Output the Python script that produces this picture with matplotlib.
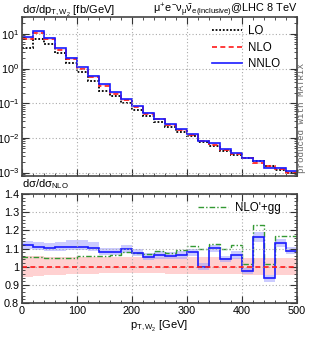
import numpy as np
import matplotlib
matplotlib.use("Agg")
import matplotlib.pyplot as plt
from matplotlib.ticker import MultipleLocator, FuncFormatter, LogLocator, NullFormatter

plt.rcParams['font.family'] = ['Liberation Sans', 'DejaVu Sans']
plt.rcParams['mathtext.fontset'] = 'custom'
plt.rcParams['mathtext.rm'] = 'Liberation Sans'
plt.rcParams['mathtext.it'] = 'Liberation Sans'
plt.rcParams['mathtext.bf'] = 'Liberation Sans:bold'

# bins in pT,W2 [GeV]
edges = np.arange(0, 520, 20)

# top panel: dsigma/dpT [fb/GeV]
lo = [3.8, 7.0, 5.0, 2.85, 1.42, 0.78, 0.44, 0.23, 0.16, 0.10, 0.063, 0.044, 0.029,
      0.020, 0.0148, 0.0114, 0.0076, 0.0059, 0.0043, 0.0033, 0.0027, 0.0021,
      0.00155, 0.00122, 0.00097]
nlo = [7.1, 10.5, 7.0, 3.5, 1.86, 1.0, 0.56, 0.32, 0.19, 0.12, 0.078, 0.050, 0.034,
       0.023, 0.0166, 0.012, 0.0081, 0.0063, 0.0046, 0.0035, 0.0027, 0.0019,
       0.0015, 0.00123, 0.0010]
nnlo = [7.9, 11.7, 7.7, 3.9, 2.07, 1.11, 0.62, 0.35, 0.205, 0.13, 0.084, 0.053, 0.036,
        0.0244, 0.0177, 0.013, 0.0081, 0.0069, 0.0048, 0.0037, 0.0026, 0.0022,
        0.0014, 0.00139, 0.00109]

# bottom panel: ratios to NLO
r_nnlo = [1.117, 1.111, 1.104, 1.107, 1.111, 1.111, 1.104, 1.083, 1.083, 1.097, 1.078,
          1.052, 1.063, 1.059, 1.065, 1.080, 0.997, 1.102, 1.041, 1.063, 0.978, 1.163,
          0.935, 1.13, 1.089]
r_nnlo_hi = [1.142, 1.138, 1.130, 1.135, 1.145, 1.145, 1.135, 1.105, 1.105, 1.12, 1.10,
             1.075, 1.085, 1.08, 1.085, 1.10, 1.02, 1.12, 1.06, 1.085, 0.995, 1.19,
             0.955, 1.15, 1.11]
r_nnlo_lo = [1.095, 1.09, 1.085, 1.088, 1.09, 1.09, 1.085, 1.065, 1.065, 1.075, 1.058,
             1.035, 1.045, 1.04, 1.045, 1.06, 0.98, 1.082, 1.025, 1.045, 0.962, 1.135,
             0.917, 1.11, 1.07]
r_nlo_hi = [1.06, 1.058, 1.056, 1.055, 1.055, 1.055, 1.055, 1.055, 1.055, 1.055, 1.055,
            1.054, 1.054, 1.053, 1.053, 1.052, 1.052, 1.051, 1.05, 1.05, 1.05, 1.049,
            1.048, 1.048, 1.047]
r_nlo_lo = [0.945, 0.948, 0.952, 0.955, 0.958, 0.96, 0.962, 0.963, 0.964, 0.965, 0.965,
            0.964, 0.963, 0.962, 0.961, 0.96, 0.96, 0.959, 0.958, 0.957, 0.956, 0.956,
            0.955, 0.955, 0.954]
r_gg = [1.056, 1.052, 1.048, 1.048, 1.048, 1.057, 1.057, 1.06, 1.063, 1.083, 1.078, 1.07,
        1.089, 1.078, 1.093, 1.113, 1.097, 1.124, 1.100, 1.120, 1.017, 1.23, 1.013,
        1.17, 1.17]

nlo_a = np.array(nlo)
nnlo_a = np.array(nnlo)
nnlo_rel_hi = np.array(r_nnlo_hi) / np.array(r_nnlo)
nnlo_rel_lo = np.array(r_nnlo_lo) / np.array(r_nnlo)

fig = plt.figure(figsize=(3.11, 3.40), dpi=100)
ax1 = fig.add_axes([0.0707, 0.482, 0.884, 0.468])
ax2 = fig.add_axes([0.0707, 0.109, 0.884, 0.320])

blue = '#1a1aff'
red = '#ff1a1a'
green = '#339933'

# --- top panel
ax1.stairs(nlo_a * np.array(r_nlo_hi), edges, baseline=nlo_a * np.array(r_nlo_lo),
           fill=True, color='#ffb3b3', alpha=0.6, lw=0)
ax1.stairs(nnlo_a * nnlo_rel_hi, edges, baseline=nnlo_a * nnlo_rel_lo,
           fill=True, color='#9999ff', alpha=0.6, lw=0)
ax1.stairs(lo, edges, color='black', ls=(0, (1, 1)), lw=1.3, baseline=None, label='LO')
ax1.stairs(nlo, edges, color=red, ls=(0, (3, 2)), lw=1.2, baseline=None, label='NLO')
ax1.stairs(nnlo, edges, color=blue, lw=1.2, baseline=None, label='NNLO')
ax1.set_yscale('log')
ax1.set_xlim(0, 500)
ax1.set_ylim(7.9e-4, 30.6)
ax1.xaxis.set_major_locator(MultipleLocator(100))
ax1.xaxis.set_minor_locator(MultipleLocator(20))
ax1.xaxis.set_major_formatter(NullFormatter())
ax1.yaxis.set_major_locator(LogLocator(base=10, numticks=10))
ax1.yaxis.set_minor_locator(LogLocator(base=10, subs=np.arange(2, 10), numticks=10))
ax1.yaxis.set_minor_formatter(NullFormatter())
leg = ax1.legend(loc='upper right', frameon=False, fontsize=8.3, handlelength=2.6,
                 handletextpad=0.6, labelspacing=0.4, borderaxespad=0.3,
                 bbox_to_anchor=(0.97, 1.0))

fig.text(0.072, 1 - 13.0 / 340, r'd$\sigma$/dp$_{\rm T,W_2}$ [fb/GeV]', fontsize=8,
         ha='left', va='baseline')
fig.text(0.955, 1 - 13.0 / 340,
         r'$\mu^{+}e^{-}\nu_{\mu}\bar{\nu}_{e}$$_{\rm (inclusive)}$@LHC 8 TeV',
         fontsize=7.8, ha='right', va='baseline')
fig.text(0.971, 0.653, 'produced with MATRIX', rotation=90, fontsize=6.6,
         family='Liberation Mono', color='#666666', ha='center', va='center')

# --- bottom panel
ax2.stairs(r_nlo_hi, edges, baseline=r_nlo_lo, fill=True, color='#ffb3b3',
           alpha=0.6, lw=0)
ax2.stairs(r_nnlo_hi, edges, baseline=r_nnlo_lo, fill=True, color='#9999ff',
           alpha=0.5, lw=0)
ax2.axhline(1.0, color=red, ls=(0, (3, 2)), lw=1.2)
ax2.stairs(r_gg, edges, color=green, ls=(0, (4, 1.5, 1, 1.5)), lw=1.0, baseline=None,
           label="NLO'+gg")
ax2.stairs(r_nnlo, edges, color=blue, lw=1.2, baseline=None)
ax2.set_xlim(0, 500)
ax2.set_ylim(0.8, 1.4)
ax2.xaxis.set_major_locator(MultipleLocator(100))
ax2.xaxis.set_minor_locator(MultipleLocator(20))
ax2.yaxis.set_major_locator(MultipleLocator(0.1))
ax2.yaxis.set_minor_locator(MultipleLocator(0.02))
ax2.yaxis.set_major_formatter(FuncFormatter(lambda v, p: '%g' % round(v, 2)))
ax2.legend(loc='upper right', frameon=False, fontsize=8.3, handlelength=2.6,
           handletextpad=0.6, borderaxespad=0.3, bbox_to_anchor=(0.97, 1.0))
ax2.set_xlabel(r'p$_{\rm T,W_2}$ [GeV]', fontsize=8, labelpad=2)
fig.text(0.072, 0.437, r'd$\sigma$/d$\sigma_{\rm NLO}$', fontsize=8,
         ha='left', va='bottom')

for ax in (ax1, ax2):
    ax.grid(True, which='major', color='#aaaaaa', ls=(0, (1, 2)), lw=0.8)
    ax.tick_params(which='both', direction='in', top=True, right=True,
                   labelsize=7.8, color='#333333', pad=2)
    ax.tick_params(which='major', length=5, width=0.8)
    ax.tick_params(which='minor', length=2.5, width=0.6)
    for s in ax.spines.values():
        s.set_linewidth(1.2)
        s.set_color('#444444')

fig.savefig('out.png', dpi=100)
